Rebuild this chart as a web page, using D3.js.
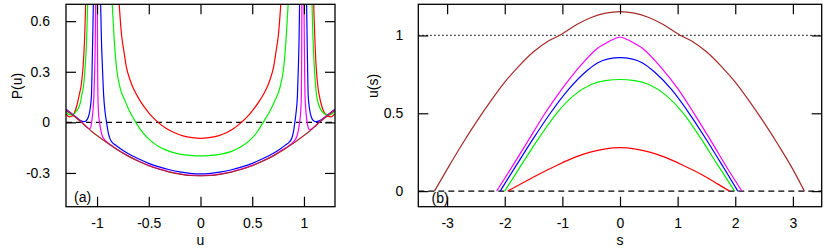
<!DOCTYPE html>
<html><head><meta charset="utf-8">
<script src="https://cdn.jsdelivr.net/npm/d3@7"></script>
<style>body{margin:0;background:#fff}svg{display:block}</style>
</head><body>
<svg id="c" width="830" height="250"></svg>
<script>
// ---------- DATA ----------
const xTicksA = [-1, -0.5, 0, 0.5, 1];
const yTicksA = [-0.3, 0, 0.3, 0.6];
const xTicksB = [-3, -2, -1, 0, 1, 2, 3];
const yTicksB = [0, 0.5, 1];

// Panel (a): P(u), each series made of branches of [u, P]
const pBrown = [[
  [-1.3,0.072],[-1.25,0.05],[-1.2,0.026],[-1.15,0.0],[-1.1,-0.028],[-1.05,-0.054],[-1.0,-0.078],
  [-0.9,-0.123],[-0.8,-0.164],[-0.7,-0.2],[-0.6,-0.231],[-0.5,-0.257],[-0.4,-0.278],[-0.3,-0.295],
  [-0.2,-0.307],[-0.1,-0.315],[0,-0.317],[0.1,-0.315],[0.2,-0.307],[0.3,-0.295],[0.4,-0.278],
  [0.5,-0.257],[0.6,-0.231],[0.7,-0.2],[0.8,-0.164],[0.9,-0.123],[1.0,-0.078],[1.05,-0.054],
  [1.1,-0.028],[1.15,0.0],[1.2,0.026],[1.25,0.05],[1.3,0.072]
]];

const pRed = [
  [[-1.3,0.05],[-1.27,0.033],[-1.245,0.035],[-1.22,0.055],[-1.195,0.1],[-1.173,0.16],[-1.153,0.22],[-1.135,0.33],[-1.12,0.5],[-1.109,0.72]],
  [[-0.788,0.72],[-0.765,0.53],[-0.74,0.42],[-0.717,0.33],[-0.68,0.25],[-0.64,0.19],[-0.588,0.132],[-0.53,0.08],
   [-0.47,0.035],[-0.41,0],[-0.33,-0.037],[-0.25,-0.062],[-0.17,-0.08],[-0.08,-0.091],[0,-0.095],[0.08,-0.091],
   [0.17,-0.08],[0.25,-0.062],[0.32,-0.037],[0.395,0],[0.455,0.035],[0.515,0.08],[0.575,0.132],[0.63,0.19],
   [0.67,0.25],[0.707,0.33],[0.73,0.42],[0.755,0.53],[0.778,0.72]],
  [[1.093,0.72],[1.105,0.5],[1.118,0.33],[1.133,0.22],[1.148,0.16],[1.17,0.1],[1.195,0.06],[1.225,0.038],[1.26,0.033],[1.3,0.05]]
];

const pGreen = [
  [[-1.3,0.065],[-1.27,0.046],[-1.24,0.045],[-1.21,0.058],[-1.18,0.085],[-1.16,0.12],[-1.148,0.16],[-1.13,0.22],[-1.115,0.33],[-1.1,0.5],[-1.09,0.72]],
  [[-0.855,0.72],[-0.835,0.5],[-0.813,0.33],[-0.775,0.2],[-0.733,0.132],[-0.68,0.06],[-0.625,0],[-0.56,-0.06],
   [-0.48,-0.11],[-0.4,-0.145],[-0.3,-0.172],[-0.2,-0.188],[-0.1,-0.196],[0,-0.199],[0.1,-0.196],[0.2,-0.188],
   [0.3,-0.172],[0.39,-0.145],[0.47,-0.11],[0.545,-0.06],[0.605,0],[0.665,0.06],[0.722,0.132],[0.765,0.2],
   [0.805,0.33],[0.828,0.5],[0.849,0.72]],
  [[1.077,0.72],[1.087,0.5],[1.1,0.33],[1.112,0.22],[1.122,0.16],[1.145,0.1],[1.175,0.065],[1.21,0.047],[1.25,0.045],[1.3,0.065]]
];

const pBlue = [
  [[-1.3,0.078],[-1.25,0.054],[-1.2,0.03],[-1.16,0.011],[-1.13,0.004],[-1.105,0.01],[-1.085,0.03],[-1.068,0.075],[-1.054,0.16],[-1.045,0.4],[-1.035,0.72]],
  [[-0.966,0.72],[-0.958,0.5],[-0.948,0.33],[-0.936,0.16],[-0.922,0.06],[-0.908,0],[-0.895,-0.05],[-0.878,-0.092],
   [-0.855,-0.118],[-0.82,-0.135],[-0.77,-0.158],[-0.7,-0.185],[-0.6,-0.216],[-0.5,-0.243],[-0.4,-0.264],
   [-0.3,-0.281],[-0.2,-0.294],[-0.1,-0.302],[0,-0.305],[0.1,-0.302],[0.2,-0.294],[0.3,-0.281],[0.4,-0.264],
   [0.5,-0.243],[0.6,-0.216],[0.7,-0.185],[0.77,-0.158],[0.82,-0.135],[0.86,-0.115],[0.885,-0.09],[0.9,-0.05],
   [0.912,0],[0.924,0.06],[0.937,0.16],[0.946,0.33],[0.953,0.5],[0.958,0.72]],
  [[1.025,0.72],[1.033,0.4],[1.041,0.16],[1.055,0.075],[1.072,0.03],[1.092,0.01],[1.12,0.004],[1.15,0.01],[1.2,0.03],[1.25,0.054],[1.3,0.078]]
];

const pMagenta = [
  [[-1.3,0.075],[-1.25,0.052],[-1.2,0.028],[-1.15,0.002],[-1.1,-0.026],[-1.08,-0.036],[-1.068,-0.038],[-1.057,-0.02],[-1.047,0.025],[-1.038,0.08],[-1.03,0.16],[-1.024,0.28],[-1.018,0.45],[-1.013,0.72]],
  [[-0.997,0.72],[-0.995,0.4],[-0.992,0.16],[-0.986,0.06],[-0.976,0],[-0.962,-0.05],[-0.948,-0.082],[-0.93,-0.1],
   [-0.91,-0.113],[-0.88,-0.128],[-0.85,-0.141],[-0.8,-0.162],[-0.7,-0.198],[-0.6,-0.229],[-0.5,-0.255],
   [-0.4,-0.276],[-0.3,-0.293],[-0.2,-0.305],[-0.1,-0.313],[0,-0.315],[0.1,-0.313],[0.2,-0.305],[0.3,-0.293],
   [0.4,-0.276],[0.5,-0.255],[0.6,-0.229],[0.7,-0.198],[0.8,-0.16],[0.86,-0.135],[0.89,-0.12],[0.912,-0.105],
   [0.93,-0.085],[0.945,-0.05],[0.958,0],[0.968,0.06],[0.975,0.16],[0.978,0.4],[0.98,0.72]],
  [[1.0,0.72],[1.004,0.45],[1.007,0.28],[1.01,0.16],[1.017,0.08],[1.025,0.025],[1.035,-0.015],[1.047,-0.04],[1.06,-0.045],[1.08,-0.036],[1.1,-0.025],[1.15,0.003],[1.2,0.029],[1.25,0.053],[1.3,0.075]]
];

// Panel (b): u(s), [s, u]
const uBrown = [[-3.22,0],[-3.0,0.14],[-2.75,0.295],[-2.5,0.44],[-2.25,0.575],[-2.0,0.7],[-1.75,0.805],[-1.5,0.895],
  [-1.25,0.963],[-1.05,1.0],[-0.75,1.07],[-0.5,1.115],[-0.25,1.143],[0,1.153],[0.25,1.143],[0.5,1.115],[0.75,1.07],
  [1.05,1.0],[1.25,0.963],[1.5,0.895],[1.75,0.805],[2.0,0.7],[2.25,0.575],[2.5,0.44],[2.75,0.295],[3.0,0.14],[3.2,0]];
const uMagenta = [[-2.14,0],[-1.85,0.17],[-1.6,0.32],[-1.3,0.5],[-1.0,0.66],[-0.7,0.8],[-0.4,0.915],[-0.2,0.96],
  [-0.05,0.985],[0,0.99],[0.05,0.985],[0.2,0.96],[0.4,0.915],[0.7,0.8],[1.0,0.66],[1.3,0.49],[1.6,0.31],[1.85,0.155],[2.115,0]];
const uBlue = [[-2.08,0],[-1.8,0.165],[-1.5,0.34],[-1.2,0.505],[-0.9,0.65],[-0.6,0.765],[-0.4,0.822],[-0.2,0.85],
  [0,0.857],[0.2,0.85],[0.4,0.822],[0.6,0.765],[0.9,0.65],[1.2,0.5],[1.5,0.33],[1.8,0.15],[2.045,0]];
const uGreen = [[-2.0,0],[-1.7,0.175],[-1.4,0.345],[-1.1,0.5],[-0.8,0.615],[-0.5,0.685],[-0.25,0.71],[0,0.717],
  [0.25,0.71],[0.5,0.685],[0.8,0.615],[1.1,0.5],[1.4,0.34],[1.7,0.165],[1.99,0]];
const uRed = [[-1.95,0],[-1.7,0.05],[-1.4,0.11],[-1.1,0.165],[-0.8,0.215],[-0.5,0.252],[-0.25,0.272],[0,0.279],
  [0.25,0.272],[0.5,0.252],[0.8,0.215],[1.1,0.165],[1.4,0.11],[1.7,0.045],[1.9,0]];

// ---------- DRAW ----------
const svg = d3.select("#c");
const FONT = "'Liberation Sans', Arial, Helvetica, sans-serif";
const col = {red:"#ff0000", green:"#00ee00", blue:"#0000ff", magenta:"#ff00ff", brown:"#a52a2a"};
const fmt = d => String(d);

function panel(id, x, y, xt, yt, padY, drawFn) {
  const [x0, x1] = x.range(), [y0, y1] = y.range();
  const g = svg.append("g");
  g.append("clipPath").attr("id", "clip" + id).append("rect")
    .attr("x", x0).attr("y", y1).attr("width", x1 - x0).attr("height", y0 - y1);
  const plot = g.append("g").attr("clip-path", `url(#clip${id})`);
  drawFn(plot);
  const T = 10;
  const ab = g.append("g").attr("transform", `translate(0,${y0})`)
    .call(d3.axisBottom(x).tickValues(xt).tickFormat(fmt).tickSizeInner(-T).tickSizeOuter(0).tickPadding(11));
  const at = g.append("g").attr("transform", `translate(0,${y1})`)
    .call(d3.axisTop(x).tickValues(xt).tickFormat("").tickSizeInner(-T).tickSizeOuter(0));
  const al = g.append("g").attr("transform", `translate(${x0},0)`)
    .call(d3.axisLeft(y).tickValues(yt).tickFormat(fmt).tickSizeInner(-T).tickSizeOuter(0).tickPadding(padY));
  const ar = g.append("g").attr("transform", `translate(${x1},0)`)
    .call(d3.axisRight(y).tickValues(yt).tickFormat("").tickSizeInner(-T).tickSizeOuter(0));
  [ab, at, al, ar].forEach(a => {
    a.select(".domain").remove();
    a.selectAll("line").attr("stroke", "#000").attr("stroke-width", 1.2);
    a.selectAll("text").attr("font-family", FONT).attr("font-size", 14).attr("fill", "#000");
  });
  g.append("rect").attr("x", x0).attr("y", y1).attr("width", x1 - x0).attr("height", y0 - y1)
    .attr("fill", "none").attr("stroke", "#000").attr("stroke-width", 1.3);
  return g;
}

const line = (x, y) => d3.line().x(d => x(d[0])).y(d => y(d[1])).curve(d3.curveMonotoneX);

// Panel (a)
const xA = d3.scaleLinear([-1.3, 1.3], [66, 335]);
const yA = d3.scaleLinear([-0.5, 0.7], [206.7, 4.3]);
panel("a", xA, yA, xTicksA, yTicksA, 16, plot => {
  plot.append("line").attr("x1", xA(-1.3)).attr("x2", xA(1.3)).attr("y1", yA(0)).attr("y2", yA(0))
    .attr("stroke", "#000").attr("stroke-width", 1.2).attr("stroke-dasharray", "6,4");
  const L = line(xA, yA);
  [[pRed, col.red], [pGreen, col.green], [pBlue, col.blue], [pMagenta, col.magenta], [pBrown, col.brown]]
    .forEach(([branches, c]) => branches.forEach(b =>
      plot.append("path").attr("d", L(b)).attr("fill", "none").attr("stroke", c).attr("stroke-width", 1.2)));
});

// Panel (b)
const xB = d3.scaleLinear([-3.5, 3.5], [418.3, 821.7]);
const yB = d3.scaleLinear([-0.1, 1.2], [206.7, 4.3]);
panel("b", xB, yB, xTicksB, yTicksB, 15, plot => {
  plot.append("line").attr("x1", xB(-3.5)).attr("x2", xB(3.5)).attr("y1", yB(0)).attr("y2", yB(0))
    .attr("stroke", "#000").attr("stroke-width", 1.2).attr("stroke-dasharray", "6,4");
  plot.append("line").attr("x1", xB(-3.5)).attr("x2", xB(3.5)).attr("y1", yB(1)).attr("y2", yB(1))
    .attr("stroke", "#000").attr("stroke-width", 1.2).attr("stroke-dasharray", "1.3,2.7");
  const L = line(xB, yB);
  [[uRed, col.red], [uGreen, col.green], [uBlue, col.blue], [uMagenta, col.magenta], [uBrown, col.brown]]
    .forEach(([d, c]) => plot.append("path").attr("d", L(d)).attr("fill", "none").attr("stroke", c).attr("stroke-width", 1.2));
});

// Labels
const txt = (s, x, y, opts = {}) => {
  const t = svg.append("text").text(s).attr("x", x).attr("y", y)
    .attr("font-family", FONT).attr("font-size", opts.size || 14).attr("fill", "#000")
    .attr("text-anchor", opts.anchor || "middle");
  if (opts.rot) t.attr("transform", `rotate(-90,${x},${y})`);
  return t;
};
txt("u", xA(0), 245);
txt("s", xB(0), 245);
txt("P(u)", 22, 86, {rot: true});
txt("u(s)", 378, 86, {rot: true});
txt("(a)", 74, 202, {anchor: "start"});
txt("(b)", 431.5, 203, {anchor: "start"});
</script>
</body></html>
